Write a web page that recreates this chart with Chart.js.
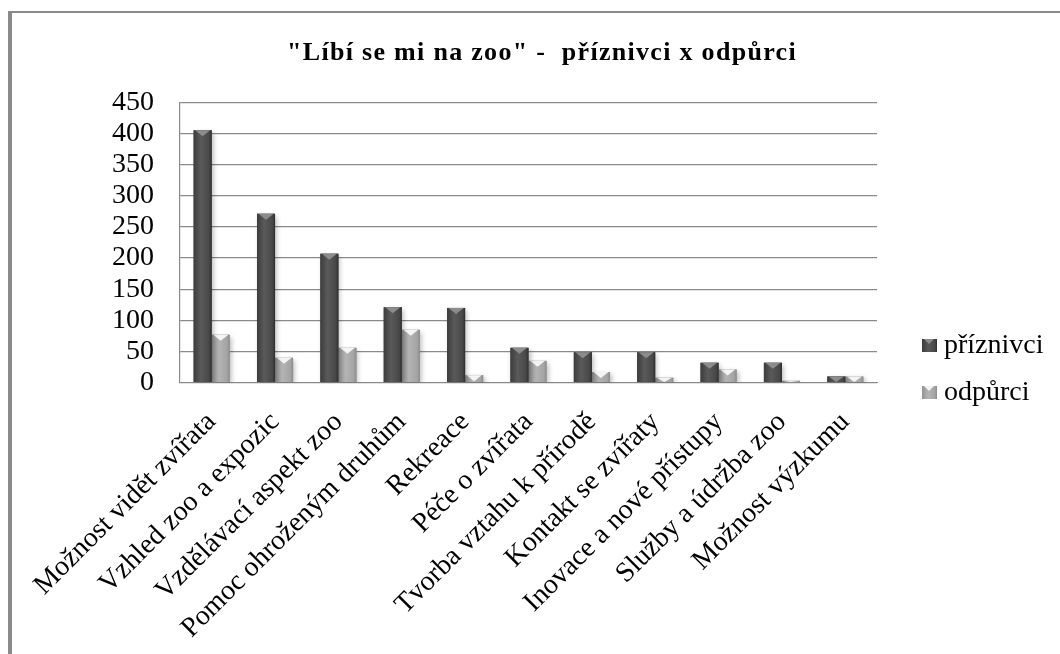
<!DOCTYPE html>
<html>
<head>
<meta charset="utf-8">
<script src="https://cdn.jsdelivr.net/npm/chart.js@4/dist/chart.umd.min.js"></script>
<style>
  html, body { margin: 0; padding: 0; background: #fff; }
  #wrap { position: relative; width: 1060px; height: 654px; overflow: hidden; background: #fff; }
  #frame { position: absolute; left: 8px; top: 11px; right: -20px; bottom: -20px;
           border-left: 4px solid #8a8a8a; border-top: 2px solid #8a8a8a; pointer-events: none; }
  canvas { position: absolute; left: 0; top: 0; }
  #legend { position: absolute; left: 922px; top: 324px; font-family: "Liberation Serif", serif;
            font-size: 28px; color: #000; }
  .item { display: flex; align-items: center; height: 40px; margin-bottom: 7px; }
  .swatch { width: 15px; height: 13px; margin-right: 7px; margin-top: 3px; position: relative; }
  .swatch::after { content: ""; position: absolute; left: 2px; top: 0; border-left: 5.5px solid transparent;
                   border-right: 5.5px solid transparent; border-top: 5px solid var(--cap); }
</style>
</head>
<body>
<div id="wrap">
  <canvas id="chart" width="1060" height="654"></canvas>
  <div id="frame"></div>
  <div id="legend"></div>
</div>
<script>
// Chart content
const TITLE = '"Líbí se mi na zoo" -  příznivci x odpůrci';
const categories = [
  'Možnost vidět zvířata',
  'Vzhled zoo a expozic',
  'Vzdělávací aspekt zoo',
  'Pomoc ohroženým druhům',
  'Rekreace',
  'Péče o zvířata',
  'Tvorba vztahu k přírodě',
  'Kontakt se zvířaty',
  'Inovace a nové přístupy',
  'Služby a údržba zoo',
  'Možnost výzkumu'
];
const seriesNames = ['příznivci', 'odpůrci'];
const priznivci = [405, 271, 207, 121, 120, 56, 49, 49, 32, 32, 10];
const odpurci   = [77, 40, 56, 85, 12, 35, 17, 8, 21, 3, 10];
const yTicks = { min: 0, max: 450, step: 50 };

// Bar shading: edge / middle / far edge / top bevel
const tones = [
  { base: '#484848', edge: '#3c3c3c', mid: '#5a5a5a', far: '#2e2e2e', cap: '#8c8c8c' },
  { base: '#a4a4a4', edge: '#929292', mid: '#b4b4b4', far: '#8a8a8a', cap: '#f4f4f4' }
];

const serif = '"Liberation Serif", "Times New Roman", serif';

// Gives the title a little extra letter spacing
const titleSpacing = {
  id: 'titleSpacing',
  afterInit(chart) {
    const t = chart.titleBlock;
    if (!t) return;
    const orig = t.draw.bind(t);
    t.draw = function () {
      const c = this.ctx;
      const prev = c.letterSpacing;
      c.letterSpacing = '1.3px';
      orig();
      c.letterSpacing = prev || '0px';
    };
  }
};

// Soft shadow under the bars, then a shaded body with a bevelled top
const bevel = {
  id: 'bevel',
  beforeDatasetDraw(chart) {
    const ctx = chart.ctx;
    ctx.save();
    ctx.shadowColor = 'rgba(0,0,0,0.28)';
    ctx.shadowBlur = 5;
    ctx.shadowOffsetX = 2;
    ctx.shadowOffsetY = 2;
  },
  afterDatasetDraw(chart, args) {
    const ctx = chart.ctx;
    ctx.restore();
    const tone = tones[args.index];
    args.meta.data.forEach(bar => {
      const { x, y, base, width } = bar.getProps(['x', 'y', 'base', 'width'], true);
      const l = x - width / 2, r = x + width / 2;
      const h = base - y;
      if (h <= 0) return;
      const g = ctx.createLinearGradient(l, 0, r, 0);
      g.addColorStop(0, tone.edge);
      g.addColorStop(0.4, tone.mid);
      g.addColorStop(0.85, tone.base);
      g.addColorStop(1, tone.far);
      ctx.save();
      ctx.fillStyle = g;
      ctx.fillRect(l, y, width, h);
      const capH = Math.min(6, h);
      ctx.beginPath();
      ctx.moveTo(l + 1.5, y);
      ctx.lineTo(r - 1.5, y);
      ctx.lineTo(x, y + capH);
      ctx.closePath();
      ctx.fillStyle = tone.cap;
      ctx.fill();
      ctx.restore();
    });
  }
};

const chart = new Chart(document.getElementById('chart'), {
  type: 'bar',
  data: {
    labels: categories,
    datasets: [
      { label: seriesNames[0], data: priznivci, backgroundColor: tones[0].base,
        barPercentage: 1, categoryPercentage: 0.57, borderWidth: 0 },
      { label: seriesNames[1], data: odpurci, backgroundColor: tones[1].base,
        barPercentage: 1, categoryPercentage: 0.57, borderWidth: 0 }
    ]
  },
  options: {
    responsive: false,
    animation: false,
    layout: { padding: { left: 24, right: 0, top: 0, bottom: 6 } },
    plugins: {
      legend: { display: false },
      tooltip: { enabled: false },
      title: {
        display: true,
        text: TITLE,
        color: '#000',
        font: { family: serif, size: 26, weight: 'bold' },
        padding: { top: 38, bottom: 33 }
      }
    },
    scales: {
      x: {
        grid: { display: false, drawTicks: false },
        border: { color: '#8a8a8a', width: 1 },
        ticks: {
          color: '#000',
          font: { family: serif, size: 28 },
          minRotation: 45, maxRotation: 45,
          autoSkip: false,
          padding: 23,
          labelOffset: 0
        },
        // long rotated labels may hang past the left edge; room on the right is kept for the legend
        afterFit(axis) {
          axis.paddingLeft = 0;
          axis.paddingRight = 183;
          axis.height -= 20;
        }
      },
      y: {
        min: yTicks.min, max: yTicks.max,
        grid: { color: '#8a8a8a', lineWidth: 1.2, drawTicks: false },
        border: { color: '#8a8a8a', width: 1.2 },
        ticks: {
          stepSize: yTicks.step,
          autoSkip: false,
          color: '#000',
          font: { family: serif, size: 28, lineHeight: 1 },
          padding: 26
        },
        afterFit(axis) {
          axis.width = 156;
        }
      }
    }
  },
  plugins: [titleSpacing, bevel]
});

// Legend beside the plot
const legend = document.getElementById('legend');
chart.data.datasets.forEach((ds, i) => {
  const item = document.createElement('div');
  item.className = 'item';
  const sw = document.createElement('span');
  sw.className = 'swatch';
  sw.style.background = `linear-gradient(90deg, ${tones[i].edge}, ${tones[i].mid} 40%, ${tones[i].base} 85%, ${tones[i].far})`;
  sw.style.setProperty('--cap', tones[i].cap);
  const txt = document.createElement('span');
  txt.textContent = ds.label;
  item.appendChild(sw);
  item.appendChild(txt);
  legend.appendChild(item);
});
</script>
</body>
</html>
